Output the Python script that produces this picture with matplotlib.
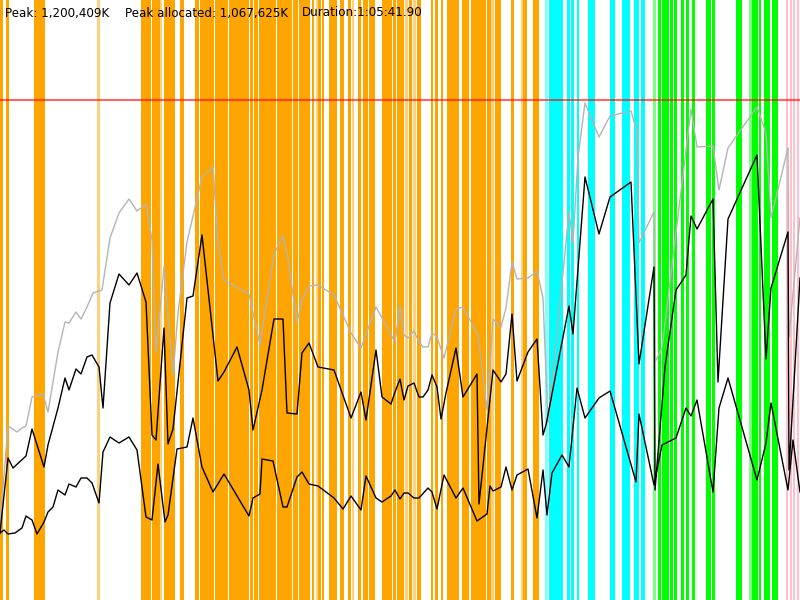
import matplotlib
matplotlib.use("Agg")
import matplotlib.pyplot as plt

# recording length (s) and memory scale (MB)
t_end = 4000
mem_top = 1200
heap_limit = 1000

# total heap (gray)
t_total = [0, 40, 85, 110, 130, 160, 215, 240, 290, 325, 345, 380, 405, 435, 465, 510, 550, 595, 645, 685,
           730, 760, 780, 820, 865, 890, 935, 1010, 1065, 1090, 1120, 1245, 1300, 1370, 1415, 1435, 1485, 1510,
           1545, 1590, 1670, 1755, 1805, 1880, 1975, 2000, 2020, 2040, 2070, 2095, 2115, 2140, 2160, 2185, 2220,
           2280, 2315, 2390, 2435, 2465, 2505, 2530, 2560, 2585, 2640, 2685, 2715, 2740, 2845, 2865, 2890, 2925,
           2995, 3050, 3155, 3185, 3195, 3270, 3275, 3310, 3455, 3485, 3565, 3595, 3640, 3785, 3830, 3855, 3940,
           3945, 4000]
total = [150, 348, 336, 344, 348, 406, 412, 376, 496, 556, 554, 576, 562, 586, 614, 620, 724, 774, 802, 778,
         792, 720, 494, 666, 450, 574, 716, 846, 866, 714, 640, 612, 510, 692, 728, 694, 556, 600,
         628, 630, 610, 534, 504, 586, 516, 588, 530, 524, 538, 516, 506, 506, 534, 526, 484,
         582, 586, 530, 380, 562, 546, 584, 676, 642, 644, 658, 604, 354, 776, 714, 886, 994,
         926, 968, 978, 936, 714, 776, 476, 504, 982, 906, 908, 820, 904, 986, 934, 764, 904,
         526, 764]

# used after allocation (upper black)
t_used = [0, 40, 65, 130, 160, 220, 240, 290, 325, 345, 380, 405, 435, 460, 495, 515, 550, 595, 645, 685,
          730, 760, 780, 820, 840, 865, 935, 965, 1010, 1090, 1120, 1185, 1245, 1265, 1310, 1370, 1415, 1435,
          1485, 1510, 1545, 1590, 1670, 1755, 1805, 1830, 1880, 1910, 1955, 1975, 2000, 2020, 2040, 2070, 2095,
          2115, 2140, 2160, 2185, 2205, 2230, 2280, 2315, 2385, 2395, 2435, 2465, 2505, 2530, 2560, 2585, 2640,
          2685, 2715, 2730, 2845, 2865, 2925, 2995, 3050, 3155, 3195, 3270, 3275, 3325, 3380, 3430, 3455, 3485,
          3565, 3590, 3640, 3785, 3830, 3855, 3940, 3945, 4000]
used = [134, 284, 264, 288, 342, 266, 310, 384, 444, 420, 462, 452, 486, 490, 466, 384, 594, 652, 630, 654,
        596, 330, 320, 544, 312, 342, 604, 608, 730, 438, 456, 506, 420, 340, 420, 562, 562, 374,
        372, 494, 514, 466, 460, 364, 416, 360, 500, 406, 392, 416, 442, 400, 428, 434, 406,
        406, 420, 450, 426, 362, 414, 504, 406, 452, 192, 344, 460, 436, 452, 572, 438, 496,
        522, 330, 350, 588, 532, 846, 732, 806, 836, 472, 666, 220, 466, 620, 650, 768, 742,
        802, 436, 762, 890, 482, 624, 736, 260, 644]

# live after GC (lower black)
t_live = [0, 20, 40, 75, 110, 130, 160, 185, 220, 240, 265, 290, 325, 345, 380, 405, 435, 460, 495, 515,
          550, 595, 645, 685, 730, 760, 790, 825, 840, 885, 935, 965, 1010, 1065, 1120, 1245, 1265, 1300,
          1310, 1365, 1415, 1435, 1485, 1510, 1545, 1590, 1670, 1715, 1755, 1805, 1830, 1880, 1910, 1955,
          1975, 2000, 2020, 2040, 2070, 2095, 2140, 2160, 2185, 2220, 2280, 2315, 2385, 2435, 2450, 2465,
          2505, 2530, 2560, 2585, 2640, 2685, 2715, 2735, 2760, 2810, 2845, 2885, 2925, 2995, 3050, 3180,
          3195, 3270, 3310, 3380, 3430, 3455, 3485, 3565, 3595, 3640, 3785, 3830, 3855, 3940, 3965, 4000]
live = [134, 140, 132, 134, 144, 168, 160, 132, 156, 176, 186, 220, 210, 232, 226, 244, 244, 234, 194, 296,
        326, 314, 326, 300, 166, 160, 272, 156, 170, 302, 306, 364, 266, 216, 252, 168, 204, 212,
        282, 278, 186, 186, 246, 256, 232, 228, 204, 182, 208, 180, 248, 204, 196, 208,
        220, 202, 214, 214, 204, 204, 224, 216, 182, 250, 204, 224, 158, 172, 228, 218,
        226, 266, 220, 250, 262, 164, 260, 170, 254, 290, 266, 424, 364, 404, 418, 236,
        372, 230, 310, 324, 384, 368, 400, 216, 384, 444, 240, 314, 394, 220, 320, 216]

# GC events: start (s) and length (s)
orange_start = [0, 30, 170, 190, 705, 725, 760, 775, 820, 865, 900, 975, 1000, 1040, 1075, 1105, 1145,
                1162.5, 1190, 1215, 1250, 1270, 1295, 1310, 1345, 1385, 1415, 1435, 1465, 1495, 1540, 1560,
                1590, 1610, 1645, 1700, 1740, 1790, 1815, 1845, 1910, 1935, 1965, 1985, 2045, 2085, 2155,
                2175, 2205, 2235, 2245, 2265, 2310, 2355, 2395, 2435, 2475, 2555, 2615, 2665]
orange_len = [12.5, 15, 21, 35, 17.5, 30, 17.5, 22.5, 45, 10, 20, 20, 40, 30, 30, 35, 20,
              27.5, 25, 30, 15, 20, 15, 35, 35, 30, 20, 25, 25, 45, 10, 10,
              15, 10, 40, 20, 15, 15, 25, 30, 25, 25, 15, 35, 15, 20, 10,
              15, 10, 12.5, 20, 30, 35, 40, 35, 20, 30, 15, 20, 30]
orange_faint_start = [485, 800, 1580, 1760, 2025, 2065, 2455, 2605]
orange_faint_len = [13, 8, 8, 8, 13, 13, 13, 8]

cyan_start = [2745, 2805, 2835, 2855, 2885, 2940, 3050, 3110, 3125, 3170, 3205]
cyan_len = [58, 8, 13, 13, 10.5, 33, 23, 13, 23, 23, 18]
cyan_faint_start = [2725]
cyan_faint_len = [13]

green_start = [3290, 3310, 3350, 3370, 3405, 3430, 3460, 3530, 3560, 3680, 3760, 3795, 3820, 3860]
green_len = [13, 33, 13, 13, 13, 13, 13, 23, 13, 28, 28, 10.5, 28, 28]
green_faint_start = [3265, 3745]
green_faint_len = [13, 18]

pink_start = [3930, 3950, 3965, 3985]
pink_len = [10, 10, 10, 10]

fig = plt.figure(figsize=(8, 6), dpi=100)
ax = fig.add_axes([0, 0, 1, 1])

def spans(starts, lens, color, alpha=1.0):
    for s, d in zip(starts, lens):
        ax.axvspan(s, s + d, color=color, alpha=alpha, lw=0, zorder=1)

spans(orange_start, orange_len, '#FFA500')
spans(orange_faint_start, orange_faint_len, '#FFA500', 0.5)
spans(cyan_start, cyan_len, '#00FFFF')
spans(cyan_faint_start, cyan_faint_len, '#00FFFF', 0.5)
spans(green_start, green_len, '#00FF00')
spans(green_faint_start, green_faint_len, '#00FF00', 0.5)
spans(pink_start, pink_len, '#FFC0CB')

ax.axhline(heap_limit, color='red', alpha=0.6, lw=1.5, zorder=2)

ax.plot(t_total, total, color='#b4b4b4', lw=1.0, zorder=3)
ax.plot(t_used, used, color='black', lw=1.0, zorder=4)
ax.plot(t_live, live, color='black', lw=1.0, zorder=4)

ax.set_xlim(0, t_end)
ax.set_ylim(0, mem_top)
ax.axis('off')

fig.text(5 / 800, 1 - 13 / 600, 'Peak: 1,200,409K', fontsize=8.6, va='center')
fig.text(125 / 800, 1 - 13 / 600, 'Peak allocated: 1,067,625K', fontsize=8.6, va='center')
fig.text(302 / 800, 1 - 13 / 600, 'Duration:1:05:41.90', fontsize=8.6, va='center')

fig.savefig('out.png', dpi=100, facecolor='white')
